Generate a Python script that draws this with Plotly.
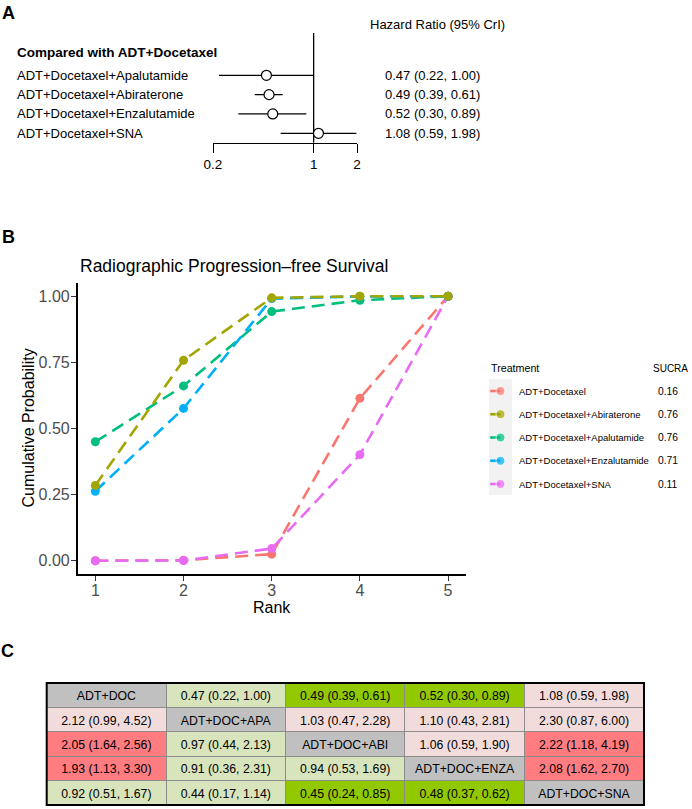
import math
import plotly.graph_objects as go

W, H = 692, 809
FONT = "Arial, Liberation Sans, sans-serif"


def px(p):
    # horizontal pixel -> paper fraction
    return p / W


def py(p):
    # vertical pixel (from top) -> paper fraction
    return 1 - p / H


# ---- panel A: hazard ratios vs ADT+Docetaxel ----
forest_labels = ["ADT+Docetaxel+Apalutamide", "ADT+Docetaxel+Abiraterone",
                 "ADT+Docetaxel+Enzalutamide", "ADT+Docetaxel+SNA"]
forest_hr = [0.47, 0.49, 0.52, 1.08]
forest_lo = [0.22, 0.39, 0.30, 0.59]
forest_hi = [1.00, 0.61, 0.89, 1.98]
forest_ticks = [0.2, 1, 2]

# ---- panel B: cumulative rank probabilities ----
ranks = [1, 2, 3, 4, 5]
treatments = ["ADT+Docetaxel", "ADT+Docetaxel+Abiraterone", "ADT+Docetaxel+Apalutamide",
              "ADT+Docetaxel+Enzalutamide", "ADT+Docetaxel+SNA"]
cum_doc = [0.0, 0.002, 0.025, 0.614, 1.0]
cum_abi = [0.285, 0.758, 0.994, 1.0, 1.0]
cum_apa = [0.450, 0.661, 0.942, 0.985, 1.0]
cum_enza = [0.263, 0.576, 0.991, 0.999, 1.0]
cum_sna = [0.0, 0.001, 0.046, 0.401, 1.0]
sucra = [0.16, 0.76, 0.76, 0.71, 0.11]
trt_colors = ["#F8766D", "#A3A500", "#00BF7D", "#00B0F6", "#E76BF3"]

# ---- panel C: league table (row vs column) ----
league_names = ["ADT+DOC", "ADT+DOC+APA", "ADT+DOC+ABI", "ADT+DOC+ENZA", "ADT+DOC+SNA"]
league_hr = [[None, 0.47, 0.49, 0.52, 1.08],
             [2.12, None, 1.03, 1.10, 2.30],
             [2.05, 0.97, None, 1.06, 2.22],
             [1.93, 0.91, 0.94, None, 2.08],
             [0.92, 0.44, 0.45, 0.48, None]]
league_lo = [[None, 0.22, 0.39, 0.30, 0.59],
             [0.99, None, 0.47, 0.43, 0.87],
             [1.64, 0.44, None, 0.59, 1.18],
             [1.13, 0.36, 0.53, None, 1.62],
             [0.51, 0.17, 0.24, 0.37, None]]
league_hi = [[None, 1.00, 0.61, 0.89, 1.98],
             [4.52, None, 2.28, 2.81, 6.00],
             [2.56, 2.13, None, 1.90, 4.19],
             [3.30, 2.31, 1.69, None, 2.70],
             [1.67, 1.14, 0.85, 0.62, None]]

fig = go.Figure()

# ================= A =================
rows = list(range(len(forest_labels)))
ya_rng = [3.487, -2.188]   # reversed, rows top to bottom

seg_x, seg_y = [], []
for i in rows:
    seg_x += [forest_lo[i], forest_hi[i], None]
    seg_y += [i, i, None]
fig.add_trace(go.Scatter(x=seg_x, y=seg_y, mode="lines", xaxis="x", yaxis="y",
                         line=dict(color="black", width=1.3), hoverinfo="skip"))
# reference line at HR = 1
fig.add_trace(go.Scatter(x=[1, 1], y=[ya_rng[1], ya_rng[0]], mode="lines", xaxis="x", yaxis="y",
                         line=dict(color="black", width=1.3), hoverinfo="skip"))
fig.add_trace(go.Scatter(x=forest_hr, y=rows, mode="markers", xaxis="x", yaxis="y",
                         marker=dict(symbol="circle", size=10, color="white",
                                     line=dict(color="black", width=1.2))))

annotations = []
for i in rows:
    annotations.append(dict(x=px(15), y=i, xref="paper", yref="y", text=forest_labels[i],
                            xanchor="left", yanchor="middle", showarrow=False,
                            font=dict(size=13, color="black")))
    annotations.append(dict(x=px(383), y=i, xref="paper", yref="y",
                            text=f"{forest_hr[i]:.2f} ({forest_lo[i]:.2f}, {forest_hi[i]:.2f})",
                            xanchor="left", yanchor="middle", showarrow=False,
                            font=dict(size=13, color="black")))
annotations.append(dict(x=px(15), y=py(52), xref="paper", yref="paper",
                        text="<b>Compared with ADT+Docetaxel</b>", xanchor="left", yanchor="middle",
                        showarrow=False, font=dict(size=13.5, color="black")))
annotations.append(dict(x=px(368), y=py(25), xref="paper", yref="paper",
                        text="Hazard Ratio (95% CrI)", xanchor="left", yanchor="middle",
                        showarrow=False, font=dict(size=13, color="black")))

# ================= B =================
cum_all = [cum_doc, cum_abi, cum_apa, cum_enza, cum_sna]
draw_order = [0, 4, 2, 3, 1]
for k in draw_order:
    fig.add_trace(go.Scatter(x=ranks, y=cum_all[k], mode="lines+markers", name=treatments[k],
                             xaxis="x2", yaxis="y2",
                             line=dict(color=trt_colors[k], width=2.6, dash="13px,7px"),
                             marker=dict(color=trt_colors[k], size=9)))

annotations.append(dict(x=px(78), y=py(266), xref="paper", yref="paper",
                        text="Radiographic Progression\u2013free Survival", xanchor="left",
                        yanchor="middle", showarrow=False, font=dict(size=17.5, color="black")))
annotations.append(dict(x=px(27.5), y=py(428), xref="paper", yref="paper",
                        text="Cumulative Probability", textangle=-90, xanchor="center",
                        yanchor="middle", showarrow=False, font=dict(size=16, color="black")))

# legend block
for k in range(len(treatments)):
    fig.add_trace(go.Scatter(x=[0.05, 0.5], y=[k, k], mode="lines+markers", xaxis="x3", yaxis="y3",
                             line=dict(color=trt_colors[k], width=2.6),
                             marker=dict(color=trt_colors[k], size=[0, 9]), hoverinfo="skip"))
    annotations.append(dict(x=px(517), y=k, xref="paper", yref="y3", text=treatments[k],
                            xanchor="left", yanchor="middle", showarrow=False,
                            font=dict(size=9.5, color="black")))
    annotations.append(dict(x=px(668), y=k, xref="paper", yref="y3", text=f"{sucra[k]:.2f}",
                            xanchor="center", yanchor="middle", showarrow=False,
                            font=dict(size=10.3, color="black")))
annotations.append(dict(x=px(489), y=py(368), xref="paper", yref="paper", text="Treatment",
                        xanchor="left", yanchor="middle", showarrow=False,
                        font=dict(size=10.7, color="black")))
annotations.append(dict(x=px(670), y=py(368), xref="paper", yref="paper", text="SUCRA",
                        xanchor="center", yanchor="middle", showarrow=False,
                        font=dict(size=10, color="black")))

# ================= C =================
GREY, LGREEN, GREEN, PINK, RED = "#C0C0C0", "#D8E4BC", "#92C800", "#F2DCDB", "#FF7C80"


def cell_color(hr, lo, hi):
    if hr is None:
        return GREY
    if hr < 1:
        return GREEN if hi < 1 else LGREEN
    return RED if lo > 1 else PINK


n = len(league_names)
cell_text = [[league_names[r] if league_hr[r][c] is None else
              f"{league_hr[r][c]:.2f} ({league_lo[r][c]:.2f}, {league_hi[r][c]:.2f})"
              for c in range(n)] for r in range(n)]
cell_fill = [[cell_color(league_hr[r][c], league_lo[r][c], league_hi[r][c])
              for c in range(n)] for r in range(n)]

row_h = 24.4
fig.add_trace(go.Table(
    domain=dict(x=[px(46.7), px(644)], y=[0, py(683)]),
    columnwidth=[1] * n,
    header=dict(values=cell_text[0], fill_color=cell_fill[0], align="center", height=row_h,
                line=dict(color="#8C8C8C", width=1),
                font=dict(family=FONT, size=12.3, color="black")),
    cells=dict(values=[[cell_text[r][c] for r in range(1, n)] for c in range(n)],
               fill_color=[[cell_fill[r][c] for r in range(1, n)] for c in range(n)],
               align="center", height=row_h,
               line=dict(color="#8C8C8C", width=1),
               font=dict(family=FONT, size=12.3, color="black")),
))

shapes = [
    dict(type="rect", xref="x3 domain", yref="y3 domain", x0=0, x1=1, y0=0, y1=1,
         fillcolor="#F2F2F2", line=dict(width=0), layer="below"),
    dict(type="rect", xref="paper", yref="paper", x0=px(46.7), x1=px(644),
         y0=py(683 + 5 * row_h), y1=py(683), line=dict(color="black", width=2),
         fillcolor="rgba(0,0,0,0)", layer="above"),
]

# panel letters
for lab, xx, yy in [("A", 8, 13), ("B", 8, 237), ("C", 7, 651)]:
    annotations.append(dict(x=px(xx), y=py(yy), xref="paper", yref="paper", text=f"<b>{lab}</b>",
                            xanchor="center", yanchor="middle", showarrow=False,
                            font=dict(size=18, color="black")))

axis_common = dict(showgrid=False, zeroline=False, automargin=False)

fig.update_layout(
    template="none",
    width=W, height=H, autosize=False,
    margin=dict(l=0, r=0, t=0, b=0),
    paper_bgcolor="white", plot_bgcolor="rgba(0,0,0,0)",
    font=dict(family=FONT, color="black"),
    showlegend=False,
    annotations=annotations,
    shapes=shapes,
    xaxis=dict(type="log", range=[math.log10(0.2), math.log10(2)], domain=[px(213), px(357)],
               anchor="y", showline=True, linecolor="black", linewidth=1.3,
               ticks="outside", ticklen=9, tickwidth=1.3, tickcolor="black",
               tickvals=forest_ticks, ticktext=[str(t) for t in forest_ticks],
               tickfont=dict(size=13.5, color="black"), **axis_common),
    yaxis=dict(range=ya_rng, domain=[py(142.7), py(33)], anchor="x", visible=False, **axis_common),
    xaxis2=dict(range=[0.8, 5.2], domain=[px(77.7), px(465.7)], anchor="y2",
                showline=True, linecolor="black", linewidth=1.5,
                ticks="outside", ticklen=5, tickwidth=1.2, tickcolor="#333333",
                ticklabelstandoff=-4,
                tickvals=ranks, tickfont=dict(size=16, color="#4D4D4D"),
                title=dict(text="Rank", font=dict(size=16, color="black"), standoff=1),
                **axis_common),
    yaxis2=dict(range=[-0.05, 1.05], domain=[py(574), py(283)], anchor="x2",
                showline=True, linecolor="black", linewidth=1.5,
                ticks="outside", ticklen=5, tickwidth=1.2, tickcolor="#333333",
                ticklabelstandoff=-2,
                tickvals=[0, 0.25, 0.5, 0.75, 1.0], tickformat=".2f",
                tickfont=dict(size=16, color="#4D4D4D"), **axis_common),
    xaxis3=dict(range=[0, 1], domain=[px(489), px(512)], anchor="y3", visible=False, **axis_common),
    yaxis3=dict(range=[4.473, -0.516], domain=[py(495), py(379)], anchor="x3", visible=False,
                **axis_common),
)

fig.write_html("out.html", config={"displayModeBar": False},
               post_script="document.body.style.margin = '0px';")
